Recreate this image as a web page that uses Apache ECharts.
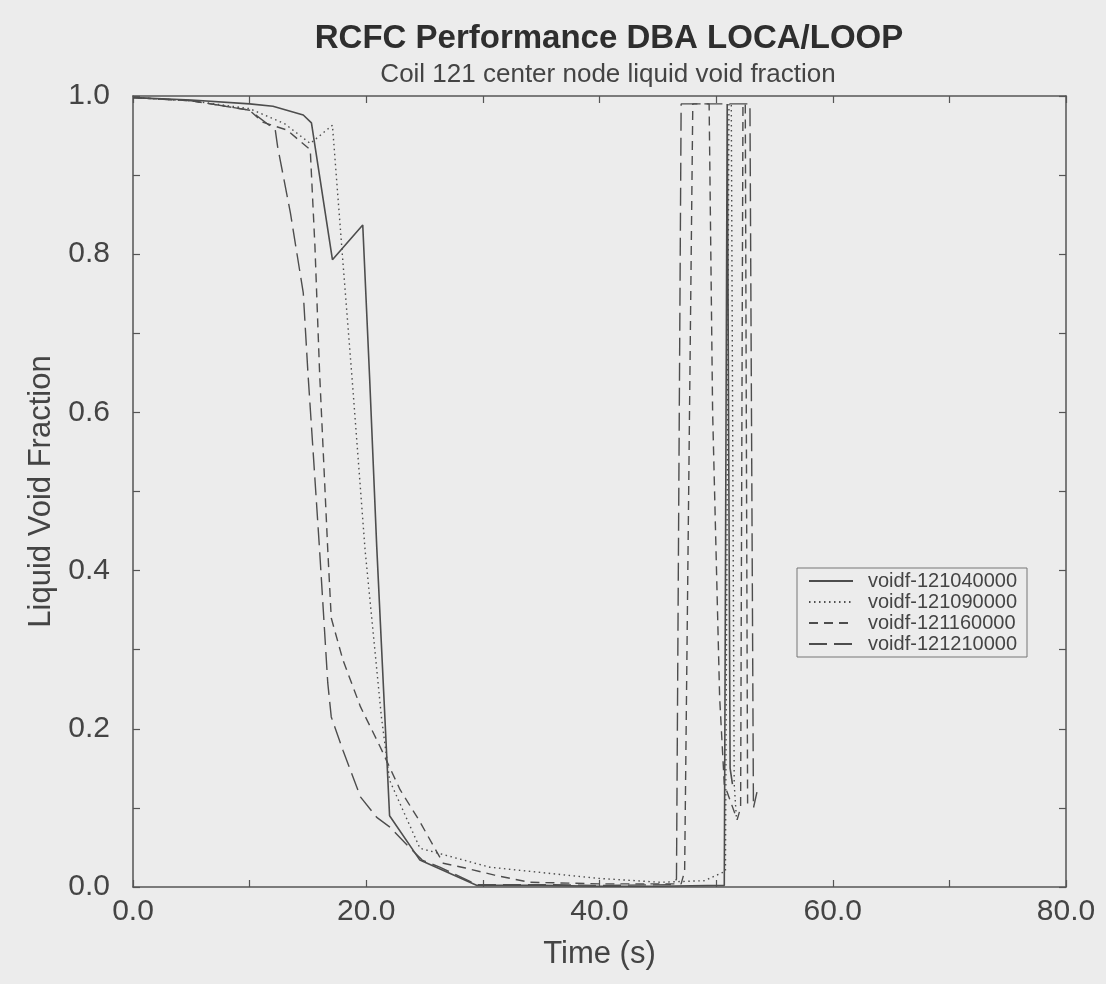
<!DOCTYPE html>
<html>
<head>
<meta charset="utf-8">
<script src="https://cdn.jsdelivr.net/npm/echarts@6/dist/echarts.min.js"></script>
<style>
html,body{margin:0;padding:0;background:#ececec;}
#chart{width:1106px;height:984px;}
</style>
</head>
<body>
<div id="chart"></div>
<script>
// Tick labels
const xTicks = [0, 20, 40, 60, 80];
const yTicks = [0.0, 0.2, 0.4, 0.6, 0.8, 1.0];

// Series names
const seriesNames = ['voidf-121040000', 'voidf-121090000', 'voidf-121160000', 'voidf-121210000'];

// voidf-121040000 (solid)
const t040 = [0, 5, 10, 12, 14.6, 15.3, 17.1, 19.7, 20.3, 20.9, 22.0, 24.6, 29.5, 35, 40, 45, 50.7, 50.95, 51.1, 51.2, 51.4];
const v040 = [0.998, 0.995, 0.99, 0.987, 0.976, 0.966, 0.793, 0.837, 0.64, 0.43, 0.09, 0.034, 0.002, 0.002, 0.001, 0.001, 0.002, 0.99, 0.99, 0.15, 0.13];

// voidf-121090000 (dotted)
const t090 = [0, 5, 10, 13, 15.2, 17.1, 18.0, 18.8, 19.9, 21.3, 22.0, 24.6, 30.6, 39.8, 45.2, 49.0, 50.8, 51.1, 51.3, 51.45, 51.55, 51.75];
const v090 = [0.998, 0.994, 0.984, 0.965, 0.94, 0.963, 0.79, 0.64, 0.426, 0.215, 0.135, 0.049, 0.025, 0.011, 0.006, 0.008, 0.02, 0.99, 0.99, 0.99, 0.13, 0.085];

// voidf-121160000 (short dash)
const t160 = [0, 5, 10, 11.1, 13.2, 15.2, 15.6, 16.0, 16.7, 17.0, 18.0, 19.5, 21.2, 22.9, 24.5, 26.6, 28.5, 31.0, 34.0, 40, 47.0, 47.3, 48.0, 49.4, 49.7, 50.3, 50.7, 51.8, 52.1, 52.3, 52.5, 52.7];
const v160 = [0.998, 0.994, 0.982, 0.967, 0.957, 0.932, 0.81, 0.65, 0.426, 0.34, 0.287, 0.228, 0.177, 0.123, 0.085, 0.03, 0.024, 0.015, 0.006, 0.004, 0.004, 0.02, 0.99, 0.99, 0.6, 0.24, 0.13, 0.085, 0.1, 0.99, 0.99, 0.1];

// voidf-121210000 (long dash)
const t210 = [0, 5, 10, 12.2, 12.4, 13.5, 14.6, 15.0, 16.0, 16.7, 17.0, 18.0, 19.5, 20.9, 22.0, 23.7, 24.8, 26.3, 29.5, 35, 40, 46.3, 46.6, 47.0, 52.9, 53.2, 53.5];
const v210 = [0.998, 0.994, 0.982, 0.957, 0.936, 0.852, 0.751, 0.65, 0.426, 0.258, 0.215, 0.173, 0.114, 0.088, 0.076, 0.05, 0.034, 0.025, 0.003, 0.003, 0.002, 0.003, 0.01, 0.99, 0.99, 0.1, 0.12];

function pairs(t, v) { return t.map((x, i) => [x, v[i]]); }

const ink = '#4d4d4d';
const font = '"Liberation Sans", Arial, Helvetica, sans-serif';

const dashes = ['solid', [1.5, 3.5], [9, 6], [18, 7]];
const dataSets = [pairs(t040, v040), pairs(t090, v090), pairs(t160, v160), pairs(t210, v210)];

const chart = echarts.init(document.getElementById('chart'), null, {renderer: 'canvas'});

function axisBase(extra) {
  return Object.assign({
    type: 'value',
    axisLine: {show: true, onZero: false, lineStyle: {color: '#555', width: 1.5}},
    axisTick: {show: true, inside: true, length: 7, lineStyle: {color: '#555', width: 1.2}},
    splitLine: {show: false}
  }, extra);
}

const option = {
  backgroundColor: '#ececec',
  animation: false,
  title: [
    {text: 'RCFC Performance DBA LOCA/LOOP', left: 604, top: 17, textAlign: 'center',
     textStyle: {fontFamily: font, fontSize: 33, fontWeight: 'bold', color: '#2e2e2e'}},
    {text: 'Coil 121 center node liquid void fraction', left: 603, top: 57, textAlign: 'center',
     textStyle: {fontFamily: font, fontSize: 26, fontWeight: 'normal', color: '#444'}}
  ],
  grid: {left: 133, right: 40, top: 96, bottom: 97, containLabel: false},
  legend: {
    orient: 'vertical', left: 797, top: 568,
    data: seriesNames,
    itemWidth: 44, itemHeight: 14, itemGap: 1,
    padding: [3, 10, 3, 11],
    borderColor: '#777', borderWidth: 1,
    itemStyle: {opacity: 0, borderWidth: 0},
    textStyle: {fontFamily: font, fontSize: 20, color: '#444', padding: [0, 0, 0, 10]},
    selectedMode: false
  },
  xAxis: [
    axisBase({
      position: 'bottom', min: 0, max: 80, interval: 10,
      name: 'Time (s)', nameLocation: 'middle', nameGap: 52,
      nameTextStyle: {fontFamily: font, fontSize: 31, color: '#444'},
      axisLabel: {show: true, margin: 10, fontFamily: font, fontSize: 30, color: '#444',
        formatter: v => xTicks.indexOf(v) >= 0 ? v.toFixed(1) : ''}
    }),
    axisBase({
      position: 'top', min: 0, max: 80, interval: 10, axisLabel: {show: false}
    })
  ],
  yAxis: [
    axisBase({
      position: 'left', min: 0, max: 1, interval: 0.1,
      name: 'Liquid Void Fraction', nameLocation: 'middle', nameGap: 68, nameRotate: 90,
      nameTextStyle: {fontFamily: font, fontSize: 31, color: '#444'},
      axisLabel: {show: true, margin: 23, fontFamily: font, fontSize: 30, color: '#444',
        formatter: v => yTicks.some(t => Math.abs(t - v) < 1e-6) ? v.toFixed(1) : ''}
    }),
    axisBase({
      position: 'right', min: 0, max: 1, interval: 0.1, axisLabel: {show: false}
    })
  ],
  series: seriesNames.map((n, i) => ({
    name: n, type: 'line', xAxisIndex: 0, yAxisIndex: 0,
    data: dataSets[i], symbol: 'none', showSymbol: false, smooth: false,
    lineStyle: {color: ink, width: i === 0 ? 1.6 : 1.4, type: dashes[i]},
    itemStyle: {color: ink}
  }))
};
chart.setOption(option);
</script>
</body>
</html>
